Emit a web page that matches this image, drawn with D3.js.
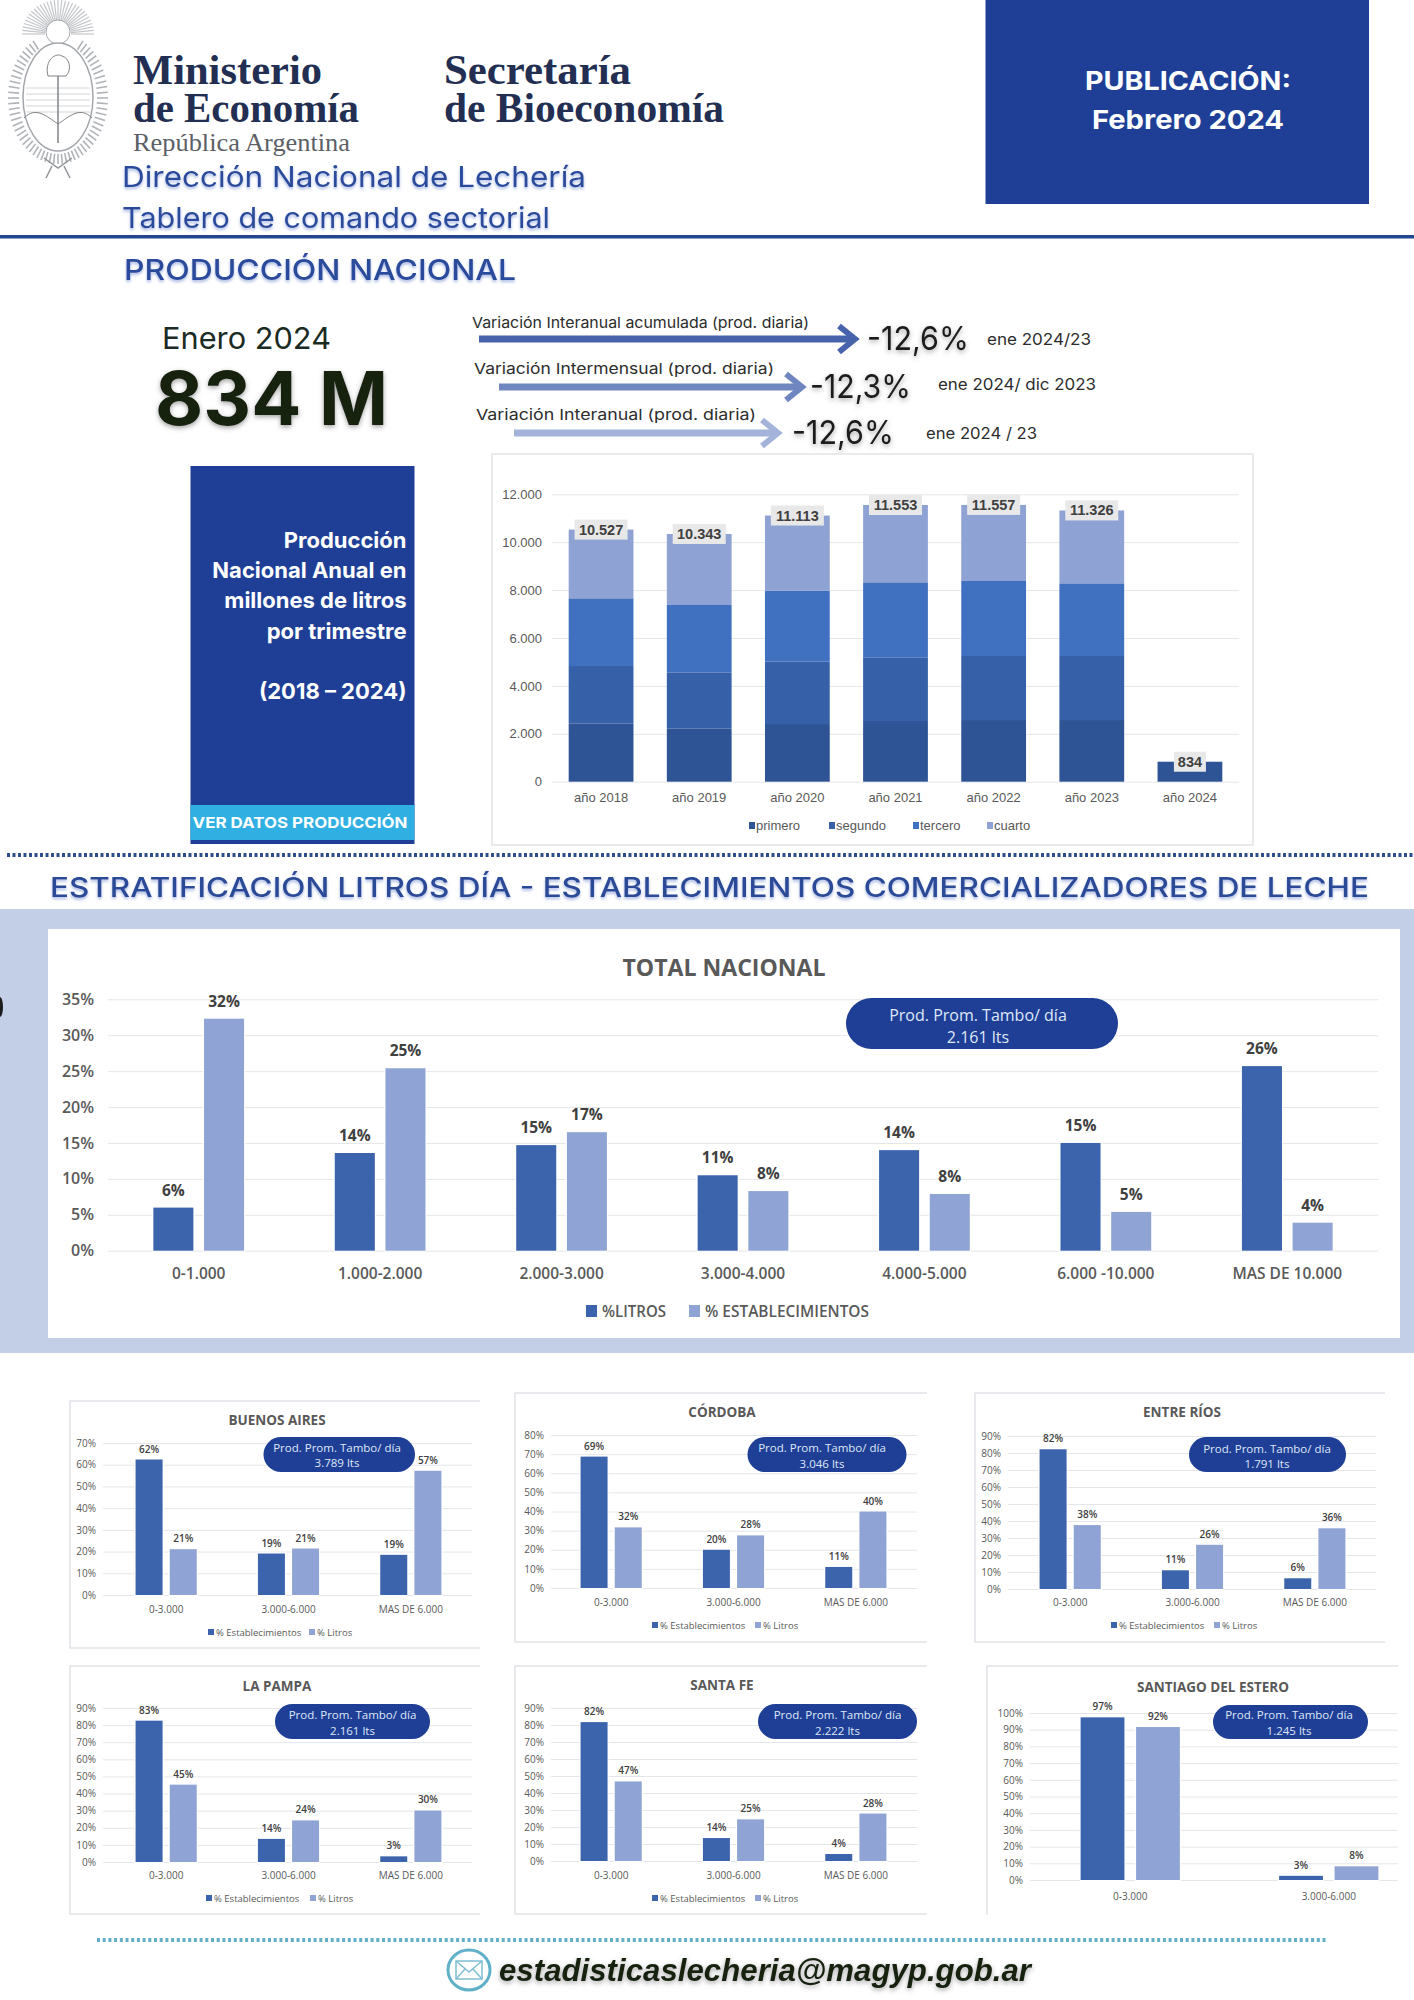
<!DOCTYPE html>
<html>
<head>
<meta charset="utf-8">
<title>Tablero de comando sectorial</title>
<script src="https://cdn.jsdelivr.net/npm/d3@7"></script>
<style>
  body { margin: 0; background: #fff; }
  svg { display: block; }
  .grid line { stroke: #e4e6ea; }
  .grid .domain { display: none; }
</style>
</head>
<body>
<div id="chart"></div>
<script>
// annual production, millions of litres per quarter
var years = ["año 2018", "año 2019", "año 2020", "año 2021", "año 2022", "año 2023", "año 2024"];
var quarters = ["primero", "segundo", "tercero", "cuarto"];
var primero = [2436, 2227, 2408, 2534, 2575, 2575, 834];
var segundo = [2394, 2339, 2604, 2659, 2673, 2673, 0];
var tercero = [2827, 2812, 2965, 3132, 3132, 3035, 0];
var cuarto = [2870, 2965, 3136, 3228, 3177, 3043, 0];
var yearTotals = ["10.527", "10.343", "11.113", "11.553", "11.557", "11.326", "834"];
var productionTicks = [0, 2000, 4000, 6000, 8000, 10000, 12000];

// total nacional
var strata = ["0-1.000", "1.000-2.000", "2.000-3.000", "3.000-4.000", "4.000-5.000", "6.000 -10.000", "MAS DE 10.000"];
var totalLitros = [6.0, 13.6, 14.7, 10.5, 14.0, 15.0, 25.7];
var totalEstablecimientos = [32.3, 25.4, 16.5, 8.3, 7.9, 5.4, 3.9];

// provinces
var provinceStrata = ["0-3.000", "3.000-6.000", "MAS DE 6.000"];
var baEstab = [62.4, 19.1, 18.5];
var baLitros = [21.1, 21.4, 57.2];
var cbaEstab = [68.7, 20.0, 11.0];
var cbaLitros = [31.7, 27.5, 40.0];
var erEstab = [82.2, 11.0, 6.3];
var erLitros = [37.6, 26.0, 35.7];
var lpEstab = [82.6, 13.5, 3.3];
var lpLitros = [45.2, 24.3, 30.1];
var sfEstab = [81.7, 13.5, 4.1];
var sfLitros = [46.8, 24.5, 27.9];
var sdeStrata = ["0-3.000", "3.000-6.000"];
var sdeEstab = [97.4, 2.5];
var sdeLitros = [91.6, 8.2];

var variations = ["Variación Interanual acumulada  (prod. diaria)", "Variación Intermensual (prod. diaria)", "Variación Interanual  (prod. diaria)"];
var variationValues = ["-12,6%", "-12,3%", "-12,6%"];
var variationPeriods = ["ene 2024/23", "ene 2024/ dic 2023", "ene 2024 / 23"];

var OPEN = "'Open Sans', sans-serif";
var ARIAL = "'Liberation Sans', Arial, sans-serif";
var SERIF = "'Liberation Serif', serif";
var INTER = "Inter, sans-serif";
var NAVY = "#1f3f96";
var DARK_BAR = "#3b64ad";
var LIGHT_BAR = "#8fa3d5";

var svg = d3.select("#chart").append("svg")
  .attr("width", 1414)
  .attr("height", 2000)
  .style("font-family", OPEN);

var defs = svg.append("defs");
function shadow(id, color, blur, opacity) {
  defs.append("filter").attr("id", id)
    .attr("x", "-10%").attr("y", "-30%").attr("width", "120%").attr("height", "170%")
    .append("feDropShadow")
    .attr("dx", 0).attr("dy", 2)
    .attr("stdDeviation", blur)
    .attr("flood-color", color)
    .attr("flood-opacity", opacity);
}
shadow("blueGlow", "#7f97d6", 1.4, 0.7);
shadow("greyGlow", "#555", 2.5, 0.55);

// text helper, y is the vertical center of the line
function label(g, x, y, str, size, o) {
  o = o || {};
  var t = g.append("text")
    .attr("x", x)
    .attr("y", y)
    .attr("dominant-baseline", "central")
    .attr("text-anchor", o.anchor || "start")
    .style("font-family", o.font || OPEN)
    .style("font-size", size + "px")
    .style("font-weight", o.weight || 400)
    .style("font-style", o.italic ? "italic" : "normal")
    .style("fill", o.color || "#404040")
    .text(str);
  if (o.width) t.attr("textLength", o.width).attr("lengthAdjust", "spacingAndGlyphs");
  if (o.filter) t.attr("filter", "url(#" + o.filter + ")");
  return t;
}

// ---------- header ----------
function drawEmblem(g) {
  var stroke = "#a3a6ab";
  // sun rays
  d3.range(-90, 91, 6).forEach(function (a) {
    var r = a * Math.PI / 180;
    g.append("line")
      .attr("x1", 58 + 13 * Math.sin(r)).attr("y1", 34 - 13 * Math.cos(r))
      .attr("x2", 58 + 36 * Math.sin(r)).attr("y2", 34 - 34 * Math.cos(r))
      .attr("stroke", "#c4c6ca").attr("stroke-width", 1.2);
  });
  g.append("circle").attr("cx", 58).attr("cy", 32).attr("r", 12)
    .attr("fill", "#fff").attr("stroke", stroke);
  // wreath
  d3.range(0, 360, 5).forEach(function (a) {
    if (a < 30 || a > 330) return;
    var r = a * Math.PI / 180;
    g.append("line")
      .attr("x1", 58 + 39 * Math.sin(r)).attr("y1", 98 - 56 * Math.cos(r))
      .attr("x2", 58 + 50 * Math.sin(r)).attr("y2", 98 - 66 * Math.cos(r))
      .attr("stroke", "#b0b3b8").attr("stroke-width", 1.6);
  });
  // oval and its contents
  g.append("ellipse").attr("cx", 58).attr("cy", 97).attr("rx", 35).attr("ry", 54)
    .attr("fill", "#fff").attr("stroke", stroke).attr("stroke-width", 1.5);
  d3.range(88, 118, 6).forEach(function (y) {
    g.append("line").attr("x1", 26).attr("x2", 90).attr("y1", y).attr("y2", y)
      .attr("stroke", "#d3d5d8");
  });
  g.append("line").attr("x1", 58).attr("x2", 58).attr("y1", 70).attr("y2", 143)
    .attr("stroke", "#808388").attr("stroke-width", 1.5);
  g.append("path").attr("d", "M48,76 C44,60 56,52 62,56 C70,58 72,70 66,76 Z")
    .attr("fill", "#fff").attr("stroke", "#808388");
  g.append("path").attr("d", "M24,118 C36,106 46,116 58,124 C70,116 80,106 92,118")
    .attr("fill", "none").attr("stroke", "#808388");
  g.append("path").attr("d", "M44,158 L58,168 L72,158 M52,166 L46,178 M64,166 L70,178")
    .attr("fill", "none").attr("stroke", "#909398").attr("stroke-width", 1.5);
}

function drawHeader() {
  var g = svg.append("g");
  drawEmblem(g);
  var ink = "#232f52";
  label(g, 133, 70, "Ministerio", 42, { font: SERIF, weight: 700, color: ink, width: 189 });
  label(g, 133, 108, "de Economía", 42, { font: SERIF, weight: 700, color: ink, width: 226 });
  label(g, 444, 70, "Secretaría", 42, { font: SERIF, weight: 700, color: ink, width: 187 });
  label(g, 444, 108, "de Bioeconomía", 42, { font: SERIF, weight: 700, color: ink, width: 280 });
  label(g, 133, 142, "República Argentina", 26, { font: SERIF, color: "#5c5f66", width: 217 });

  label(g, 122, 176, "Dirección Nacional de Lechería", 29, { font: INTER, color: "#2c4c9c", width: 464, filter: "blueGlow" });
  label(g, 122, 217, "Tablero de comando sectorial", 29, { font: INTER, color: "#2c4c9c", width: 428, filter: "blueGlow" });

  g.append("rect").attr("x", 985.5).attr("y", 0).attr("width", 383.5).attr("height", 204).attr("fill", NAVY);
  label(g, 1188, 80, "PUBLICACIÓN:", 26, { font: INTER, weight: 700, color: "#fff", anchor: "middle", width: 206 });
  label(g, 1188, 119, "Febrero 2024", 26, { font: INTER, weight: 700, color: "#fff", anchor: "middle", width: 192 });

  g.append("rect").attr("x", 0).attr("y", 235).attr("width", 1414).attr("height", 3.5).attr("fill", "#23448f");
  label(g, 124, 269, "PRODUCCIÓN NACIONAL", 29, { font: INTER, weight: 500, color: "#2c4c9c", width: 392, filter: "blueGlow" });

  label(g, 162, 338, "Enero 2024", 30, { font: INTER, color: "#1b2a22", width: 169 });
  label(g, 155, 398, "834 M", 74, { font: INTER, weight: 700, color: "#15230f", width: 233, filter: "greyGlow" });
}

function drawVariations() {
  var g = svg.append("g");
  var textX = [472, 474, 476], textW = [337, 300, 280], textY = [322, 368, 414];
  var fromX = [479, 499, 514], tipX = [857, 804, 780], arrowY = [339, 387, 433];
  var colors = ["#4763ab", "#6f86c0", "#a4b3da"];
  var valX = [867, 810, 792], valW = [102, 101, 102], valY = [338, 386, 432];
  var perX = [987, 938, 926], perW = [104, 158, 111], perY = [339, 384, 433];
  variations.forEach(function (d, i) {
    label(g, textX[i], textY[i], d, 15, { font: INTER, color: "#2c2c2c", width: textW[i] });
    g.append("line")
      .attr("x1", fromX[i]).attr("x2", tipX[i] - 3)
      .attr("y1", arrowY[i]).attr("y2", arrowY[i])
      .attr("stroke", colors[i]).attr("stroke-width", 7);
    g.append("path")
      .attr("d", "M" + (tipX[i] - 18) + "," + (arrowY[i] - 13) + " L" + (tipX[i] - 2) + "," + arrowY[i] + " L" + (tipX[i] - 18) + "," + (arrowY[i] + 13))
      .attr("fill", "none").attr("stroke", colors[i]).attr("stroke-width", 6);
    label(g, valX[i], valY[i], variationValues[i], 33, { font: INTER, color: "#1c1c1c", width: valW[i], filter: "greyGlow" });
    label(g, perX[i], perY[i], variationPeriods[i], 16, { font: INTER, color: "#2c2c2c", width: perW[i] });
  });
}

function drawSidePanel() {
  var g = svg.append("g");
  g.append("rect").attr("x", 190.5).attr("y", 466).attr("width", 224).attr("height", 378).attr("fill", NAVY);
  var lines = ["Producción", "Nacional Anual en", "millones de litros", "por trimestre", "(2018 – 2024)"];
  var lineY = [540, 570, 600, 631, 691];
  lines.forEach(function (d, i) {
    label(g, 406.5, lineY[i], d, 22, { font: INTER, weight: 700, color: "#fff", anchor: "end" });
  });
  g.append("rect").attr("x", 190.5).attr("y", 805).attr("width", 224).attr("height", 35).attr("fill", "#30b0e2");
  label(g, 192.5, 822, "VER DATOS PRODUCCIÓN", 15, { font: INTER, weight: 700, color: "#fff", width: 215 });
}

// ---------- stacked production chart ----------
function drawProduction() {
  var g = svg.append("g");
  g.append("rect").attr("x", 492).attr("y", 454).attr("width", 761).attr("height", 391)
    .attr("fill", "#fff").attr("stroke", "#e2e3e6").attr("stroke-width", 1.5);

  var x = d3.scaleBand().domain(years).range([552, 1239]).paddingInner(0.34).paddingOuter(0.17);
  var y = d3.scaleLinear().domain([0, 12000]).range([781.7, 494.3]);
  var es = d3.formatLocale({ decimal: ",", thousands: ".", grouping: [3], currency: ["", ""] });

  var axis = g.append("g").attr("class", "grid")
    .attr("transform", "translate(552,0)")
    .call(d3.axisLeft(y).tickValues(productionTicks).tickSize(-687).tickPadding(10).tickFormat(es.format(",")));
  axis.selectAll("text").style("font-family", ARIAL).style("font-size", "13px").style("fill", "#595959");

  var rows = years.map(function (d, i) {
    return { year: d, primero: primero[i], segundo: segundo[i], tercero: tercero[i], cuarto: cuarto[i] };
  });
  var colors = d3.scaleOrdinal().domain(quarters).range(["#2f5496", "#3660a8", "#4070c0", "#8ea2d4"]);
  var stacked = d3.stack().keys(quarters)(rows);

  g.selectAll("g.layer").data(stacked).enter().append("g")
    .attr("class", "layer")
    .attr("fill", function (d) { return colors(d.key); })
    .selectAll("rect").data(function (d) { return d; }).enter().append("rect")
    .attr("x", function (d) { return x(d.data.year); })
    .attr("width", x.bandwidth())
    .attr("y", function (d) { return y(d[1]); })
    .attr("height", function (d) { return y(d[0]) - y(d[1]); });

  // total tags centered on the top of each bar
  rows.forEach(function (d, i) {
    var top = y(d.primero + d.segundo + d.tercero + d.cuarto);
    var cx = x(d.year) + x.bandwidth() / 2;
    var w = yearTotals[i].length > 3 ? 53 : 32;
    g.append("rect").attr("x", cx - w / 2).attr("y", top - 10).attr("width", w).attr("height", 20).attr("fill", "#e8e8e8");
    label(g, cx, top, yearTotals[i], 14.5, { font: ARIAL, weight: 700, color: "#404040", anchor: "middle" });
  });

  years.forEach(function (d) {
    label(g, x(d) + x.bandwidth() / 2, 797, d, 13, { font: ARIAL, color: "#595959", anchor: "middle" });
  });

  var swatchX = [749, 829, 913, 987];
  quarters.forEach(function (d, i) {
    g.append("rect").attr("x", swatchX[i]).attr("y", 822).attr("width", 6).attr("height", 7).attr("fill", colors(d));
    label(g, swatchX[i] + 7, 825, d, 13, { font: ARIAL, color: "#595959" });
  });
}

// ---------- grouped percentage charts ----------
function pill(g, x0, x1, y0, y1, cx, line1, line2, size, y1Text, y2Text) {
  g.append("rect").attr("x", x0).attr("y", y0).attr("width", x1 - x0).attr("height", y1 - y0)
    .attr("rx", (y1 - y0) / 2).attr("fill", NAVY);
  label(g, cx, y1Text, line1, size, { color: "#dfe7f8", anchor: "middle" });
  label(g, cx, y2Text, line2, size, { color: "#dfe7f8", anchor: "middle" });
}

function groupedBars(g, o) {
  var x0 = d3.scaleBand().domain(o.categories).range(o.xRange).paddingInner(0.5).paddingOuter(0.25);
  var x1 = d3.scaleBand().domain([0, 1]).range([0, x0.bandwidth()]).paddingInner(0.21);
  var y = d3.scaleLinear().domain([0, o.yMax]).range(o.yRange);

  var axis = g.append("g").attr("class", "grid")
    .attr("transform", "translate(" + o.gridLeft + ",0)")
    .call(d3.axisLeft(y)
      .tickValues(d3.range(0, o.yMax + 1, o.yStep))
      .tickSize(-(o.gridRight - o.gridLeft))
      .tickPadding(o.tickPad)
      .tickFormat(function (d) { return d + "%"; }));
  axis.selectAll("text")
    .style("font-family", OPEN)
    .style("font-size", o.tickSize + "px")
    .style("font-weight", o.bold ? 600 : 400)
    .style("fill", "#595959");

  [o.first, o.second].forEach(function (values, s) {
    g.selectAll("rect.s" + s).data(values).enter().append("rect")
      .attr("class", "s" + s)
      .attr("x", function (d, i) { return x0(o.categories[i]) + x1(s); })
      .attr("width", x1.bandwidth())
      .attr("y", function (d) { return y(d); })
      .attr("height", function (d) { return y(0) - y(d); })
      .attr("fill", s === 0 ? DARK_BAR : LIGHT_BAR)
      .attr("stroke", "#fff").attr("stroke-width", 2).style("paint-order", "stroke");
    values.forEach(function (d, i) {
      label(g, x0(o.categories[i]) + x1(s) + x1.bandwidth() / 2, y(d) - o.labelGap, Math.round(d) + "%", o.labelSize,
        { weight: o.bold ? 700 : 600, color: "#404040", anchor: "middle" });
    });
  });

  o.categories.forEach(function (d) {
    label(g, x0(d) + x0.bandwidth() / 2, o.catY, d, o.catSize, { weight: o.bold ? 600 : 400, color: "#595959", anchor: "middle" });
  });
}

function provinceChart(o) {
  var g = svg.append("g");
  // panels have no line on their right side
  g.append("path")
    .attr("d", "M" + o.right + "," + o.top + " L" + o.left + "," + o.top + " L" + o.left + "," + o.bottom + (o.noBottom ? "" : " L" + o.right + "," + o.bottom))
    .attr("fill", "none").attr("stroke", "#e0e2e6").attr("stroke-width", 1.5);
  label(g, o.titleX, o.titleY, o.title, 13.5, { weight: 700, color: "#595959", anchor: "middle" });
  o.tickPad = 7;
  o.tickSize = 10;
  o.labelGap = 11;
  o.labelSize = 10;
  o.catSize = 10;
  groupedBars(g, o);
  pill(g, o.pill[0], o.pill[1], o.pill[2], o.pill[3], o.pill[4], "Prod. Prom. Tambo/ día", o.lts, 11.5, o.pill[5], o.pill[6]);
  if (o.legend) {
    g.append("rect").attr("x", o.legend[0]).attr("y", o.legendY - 3).attr("width", 6).attr("height", 6).attr("fill", DARK_BAR);
    label(g, o.legend[0] + 8, o.legendY, "% Establecimientos", 9.5, { color: "#595959" });
    g.append("rect").attr("x", o.legend[1]).attr("y", o.legendY - 3).attr("width", 6).attr("height", 6).attr("fill", LIGHT_BAR);
    label(g, o.legend[1] + 8, o.legendY, "% Litros", 9.5, { color: "#595959" });
  }
}

function drawTotal() {
  var g = svg.append("g");
  g.append("rect").attr("x", 0).attr("y", 909).attr("width", 1414).attr("height", 444).attr("fill", "#c3cfe6");
  g.append("rect").attr("x", 48).attr("y", 929).attr("width", 1352).attr("height", 409).attr("fill", "#fff");
  g.append("path").attr("d", "M0,997 A3,10 0 0 1 0,1017").attr("fill", "#1c1c1c");
  label(g, 724, 966, "TOTAL NACIONAL", 24, { weight: 700, color: "#595959", anchor: "middle", width: 203 });

  groupedBars(g, {
    categories: strata,
    first: totalLitros,
    second: totalEstablecimientos,
    xRange: [108, 1378],
    yRange: [1250.7, 999.3],
    yMax: 35,
    yStep: 5,
    gridLeft: 108,
    gridRight: 1378,
    tickPad: 14,
    tickSize: 16,
    bold: true,
    labelGap: 18,
    labelSize: 15.5,
    catY: 1273,
    catSize: 15.5
  });
  pill(g, 846, 1118, 998, 1049, 978, "Prod. Prom. Tambo/ día", "2.161 lts", 16, 1015, 1037);

  g.append("rect").attr("x", 586).attr("y", 1305).attr("width", 11).attr("height", 12).attr("fill", DARK_BAR);
  label(g, 602, 1311, "%LITROS", 15.5, { weight: 600, color: "#595959", width: 64 });
  g.append("rect").attr("x", 689).attr("y", 1305).attr("width", 11).attr("height", 12).attr("fill", LIGHT_BAR);
  label(g, 705, 1311, "% ESTABLECIMIENTOS", 15.5, { weight: 600, color: "#595959", width: 164 });
}

function drawDividers() {
  var g = svg.append("g");
  g.append("line").attr("x1", 7).attr("x2", 1414).attr("y1", 855).attr("y2", 855)
    .attr("stroke", "#2f4e8e").attr("stroke-width", 4).attr("stroke-dasharray", "3 2.5");
  label(g, 50, 887, "ESTRATIFICACIÓN LITROS DÍA - ESTABLECIMIENTOS COMERCIALIZADORES DE LECHE", 27,
    { font: INTER, weight: 500, color: "#2a4a96", width: 1319, filter: "blueGlow" });
}

function drawFooter() {
  var g = svg.append("g");
  g.append("line").attr("x1", 97).attr("x2", 1327).attr("y1", 1940).attr("y2", 1940)
    .attr("stroke", "#62aec6").attr("stroke-width", 4).attr("stroke-dasharray", "3 2.7");
  g.append("ellipse").attr("cx", 469).attr("cy", 1970).attr("rx", 21).attr("ry", 20)
    .attr("fill", "#fff").attr("stroke", "#5fb0c8").attr("stroke-width", 3);
  g.append("rect").attr("x", 456).attr("y", 1961).attr("width", 26).attr("height", 18)
    .attr("fill", "none").attr("stroke", "#7fbed2").attr("stroke-width", 1.5);
  g.append("path").attr("d", "M456,1961 L469,1972 L482,1961 M456,1979 L465,1969 M482,1979 L473,1969")
    .attr("fill", "none").attr("stroke", "#7fbed2").attr("stroke-width", 1.5);
  label(g, 499, 1970, "estadisticaslecheria@magyp.gob.ar", 31, { font: ARIAL, weight: 700, italic: true, color: "#15230f", width: 532, filter: "greyGlow" });
}

drawHeader();
drawVariations();
drawSidePanel();
drawProduction();
drawDividers();
drawTotal();

provinceChart({
  title: "BUENOS AIRES", lts: "3.789 lts", categories: provinceStrata, first: baEstab, second: baLitros,
  left: 70, right: 480, top: 1401, bottom: 1648, titleX: 277, titleY: 1420,
  xRange: [105, 472], gridLeft: 103, gridRight: 472, yRange: [1595, 1443], yMax: 70, yStep: 10,
  catY: 1609, legendY: 1632, legend: [208, 309], pill: [263.5, 415, 1437, 1472, 337, 1447, 1462]
});
provinceChart({
  title: "CÓRDOBA", lts: "3.046 lts", categories: provinceStrata, first: cbaEstab, second: cbaLitros,
  left: 515, right: 927, top: 1393, bottom: 1642, titleX: 722, titleY: 1412,
  xRange: [550, 917], gridLeft: 551, gridRight: 917, yRange: [1588, 1435], yMax: 80, yStep: 10,
  catY: 1602, legendY: 1625, legend: [652, 755], pill: [747.5, 906.5, 1437, 1472, 822, 1447, 1463]
});
provinceChart({
  title: "ENTRE RÍOS", lts: "1.791 lts", categories: provinceStrata, first: erEstab, second: erLitros,
  left: 975, right: 1385, top: 1393, bottom: 1642, titleX: 1182, titleY: 1412,
  xRange: [1009, 1376], gridLeft: 1008, gridRight: 1376, yRange: [1589, 1436], yMax: 90, yStep: 10,
  catY: 1602, legendY: 1625, legend: [1111, 1214], pill: [1189, 1346, 1437, 1472, 1267, 1448, 1463]
});
provinceChart({
  title: "LA PAMPA", lts: "2.161 lts", categories: provinceStrata, first: lpEstab, second: lpLitros,
  left: 70, right: 480, top: 1666, bottom: 1914, titleX: 277, titleY: 1686,
  xRange: [105, 472], gridLeft: 103, gridRight: 472, yRange: [1862, 1708], yMax: 90, yStep: 10,
  catY: 1875, legendY: 1898, legend: [206, 310], pill: [275, 430, 1704, 1739, 352.5, 1714, 1730]
});
provinceChart({
  title: "SANTA FE", lts: "2.222 lts", categories: provinceStrata, first: sfEstab, second: sfLitros,
  left: 515, right: 927, top: 1666, bottom: 1914, titleX: 722, titleY: 1685,
  xRange: [550, 917], gridLeft: 551, gridRight: 917, yRange: [1861, 1708], yMax: 90, yStep: 10,
  catY: 1875, legendY: 1898, legend: [652, 755], pill: [758, 917, 1704, 1739, 837.5, 1714, 1730]
});
provinceChart({
  title: "SANTIAGO DEL ESTERO", lts: "1.245 lts", categories: sdeStrata, first: sdeEstab, second: sdeLitros,
  left: 987, right: 1398, top: 1666, bottom: 1915, noBottom: true, titleX: 1213, titleY: 1687,
  xRange: [1031, 1428], gridLeft: 1030, gridRight: 1398, yRange: [1880, 1713], yMax: 100, yStep: 10,
  catY: 1896, pill: [1213, 1368, 1705, 1739, 1289, 1714, 1730]
});

drawFooter();
</script>
</body>
</html>
